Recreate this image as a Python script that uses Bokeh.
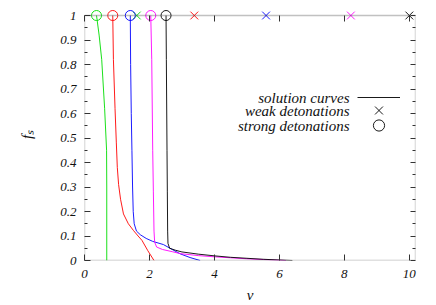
from bokeh.plotting import figure
from bokeh.models import (Range1d, FixedTicker, LinearAxis, BoxAnnotation,
                          Legend, LegendItem, Label)
from bokeh.embed import file_html
from bokeh.resources import INLINE
from bokeh.core.properties import value

# ---------------- data ----------------
colors = ["#00dd00", "#ff0000", "#0000ff", "#ff00ff", "#000000"]

green_v = [0.37, 0.45, 0.53, 0.62, 0.68, 0.685, 0.685]
green_f = [1.0, 0.92, 0.82, 0.62, 0.45, 0.30, 0.0]

red_v = [0.87, 0.89, 0.94, 0.98, 1.01, 1.05, 1.11, 1.20, 1.35, 1.51, 1.65, 1.77, 1.95, 2.14]
red_f = [1.0, 0.82, 0.62, 0.48, 0.38, 0.31, 0.25, 0.19, 0.15, 0.122, 0.10, 0.082, 0.04, 0.0]

blue_v = [1.41, 1.42, 1.44, 1.46, 1.48, 1.50, 1.53, 1.60, 1.72, 1.90, 2.10, 2.43, 2.70, 2.95, 3.25, 3.56]
blue_f = [1.0, 0.80, 0.60, 0.45, 0.30, 0.20, 0.15, 0.12, 0.105, 0.09, 0.078, 0.065, 0.045, 0.027, 0.012, 0.0]

magenta_v = [2.04, 2.07, 2.10, 2.12, 2.14, 2.16, 2.22, 2.40, 2.70, 2.95, 3.50, 4.00, 4.50, 5.00, 5.50, 6.20]
magenta_f = [1.0, 0.82, 0.45, 0.28, 0.12, 0.075, 0.055, 0.045, 0.036, 0.028, 0.02, 0.015, 0.011, 0.007, 0.004, 0.0]

black_v = [2.51, 2.52, 2.54, 2.55, 2.56, 2.57, 2.62, 2.80, 3.00, 3.50, 4.00, 4.50, 5.00, 5.50, 6.00, 6.40]
black_f = [1.0, 0.82, 0.45, 0.28, 0.12, 0.07, 0.05, 0.042, 0.035, 0.026, 0.019, 0.013, 0.009, 0.005, 0.002, 0.0]

strong_v = [0.37, 0.87, 1.41, 2.04, 2.51]
strong_f = [1.0, 1.0, 1.0, 1.0, 1.0]
weak_v = [1.61, 3.38, 5.59, 8.20, 10.0]
weak_f = [1.0, 1.0, 1.0, 1.0, 1.0]

x_ticks = [0, 2, 4, 6, 8, 10]
y_ticks = [0, 0.1, 0.2, 0.3, 0.4, 0.5, 0.6, 0.7, 0.8, 0.9, 1.0]
y_tick_labels = ["0", "0.1", "0.2", "0.3", "0.4", "0.5", "0.6", "0.7", "0.8", "0.9", "1"]
y_minor = [0.05, 0.15, 0.25, 0.35, 0.45, 0.55, 0.65, 0.75, 0.85, 0.95]

legend_labels = ["solution curves", "weak detonations", "strong detonations"]

curves_v = [green_v, red_v, blue_v, magenta_v, black_v]
curves_f = [green_f, red_f, blue_f, magenta_f, black_f]

FONT = "Liberation Serif"
AXC = "#333333"

# ---------------- figure ----------------
p = figure(width=436, height=305,
           x_range=Range1d(0, 10.19), y_range=Range1d(0, 1.0286),
           output_backend="svg", toolbar_location=None,
           min_border_left=84, min_border_right=21,
           min_border_top=8, min_border_bottom=45)
p.grid.visible = False
p.outline_line_color = None
p.background_fill_color = "white"

line_renderers = []
for v, f, c in zip(curves_v, curves_f, colors):
    r = p.line(v, f, line_color=c, line_width=0.9)
    line_renderers.append(r)

weak_r = []
strong_r = []
for i, c in enumerate(colors):
    rs = p.scatter([strong_v[i]], [strong_f[i]], marker="circle", size=10,
                   fill_color=None, line_color=c, line_width=0.9)
    rw = p.scatter([weak_v[i]], [weak_f[i]], marker="x", size=11,
                   line_color=c, line_width=0.9)
    strong_r.append(rs)
    weak_r.append(rw)

# frame box (y from 0 to 1, x full range)
box = BoxAnnotation(left=0, right=10.19, bottom=0, top=1.0,
                    fill_color=None, line_color=AXC, line_width=1.4)
p.add_layout(box)


def style_axis(ax, ticker, tin, mtin):
    ax.ticker = ticker
    ax.axis_line_color = None
    ax.major_tick_in = tin
    ax.major_tick_out = 0
    ax.minor_tick_in = mtin
    ax.minor_tick_out = 0
    ax.major_tick_line_color = AXC
    ax.minor_tick_line_color = AXC
    ax.major_label_text_font = FONT
    ax.major_label_text_font_style = "italic"
    ax.major_label_text_font_size = "13px"
    ax.major_label_text_color = "#111111"
    ax.axis_label_text_font = FONT
    ax.axis_label_text_font_style = "italic"
    ax.axis_label_text_font_size = "15px"
    ax.axis_label_text_color = "#111111"


# bottom
xa = p.xaxis[0]
style_axis(xa, FixedTicker(ticks=x_ticks, minor_ticks=[]), 6, 0)
xa.major_label_standoff = 9
xa.axis_label = "v"
xa.axis_label_standoff = 6

# left
ya = p.yaxis[0]
style_axis(ya, FixedTicker(ticks=y_ticks, minor_ticks=y_minor), 6, 3)
ya.major_label_standoff = 8
ya.major_label_overrides = {t: s for t, s in zip(y_ticks, y_tick_labels)}
ya.axis_label = "fₛ"
ya.axis_label_standoff = 22

# top (ticks pointing down from y=1)
top = LinearAxis()
style_axis(top, FixedTicker(ticks=x_ticks, minor_ticks=[]), 13, 0)
top.major_tick_out = -7
top.major_label_text_font_size = "0px"
top.major_label_text_color = None
top.major_label_standoff = 0
p.add_layout(top, "above")

# right
ra = LinearAxis()
style_axis(ra, FixedTicker(ticks=y_ticks, minor_ticks=y_minor), 5, 3)
ra.major_label_text_font_size = "0px"
ra.major_label_text_color = None
ra.major_label_standoff = 0
p.add_layout(ra, "right")

# legend: glyph samples on the right, texts right-aligned on their left
row_y = [163, 150, 135]
legend_renderers = [line_renderers[4], weak_r[4], strong_r[4]]
for ry, rend in zip(row_y, legend_renderers):
    lg = Legend(items=[LegendItem(label=value(" "), renderers=[rend])],
                location=(273, ry - 14), glyph_width=43, glyph_height=28,
                label_height=28, label_width=0, label_standoff=0, spacing=0,
                padding=0, margin=0, border_line_color=None,
                background_fill_alpha=0, label_text_font_size="0px",
                label_text_color=None)
    p.add_layout(lg)

for ry, txt in zip(row_y, legend_labels):
    p.add_layout(Label(x=265, y=ry, x_units="screen", y_units="screen",
                       text=txt, text_align="right", text_baseline="middle",
                       text_font=FONT, text_font_style="italic",
                       text_font_size="15px", text_color="#111111"))

open("out.html", "w").write(file_html(p, INLINE))
